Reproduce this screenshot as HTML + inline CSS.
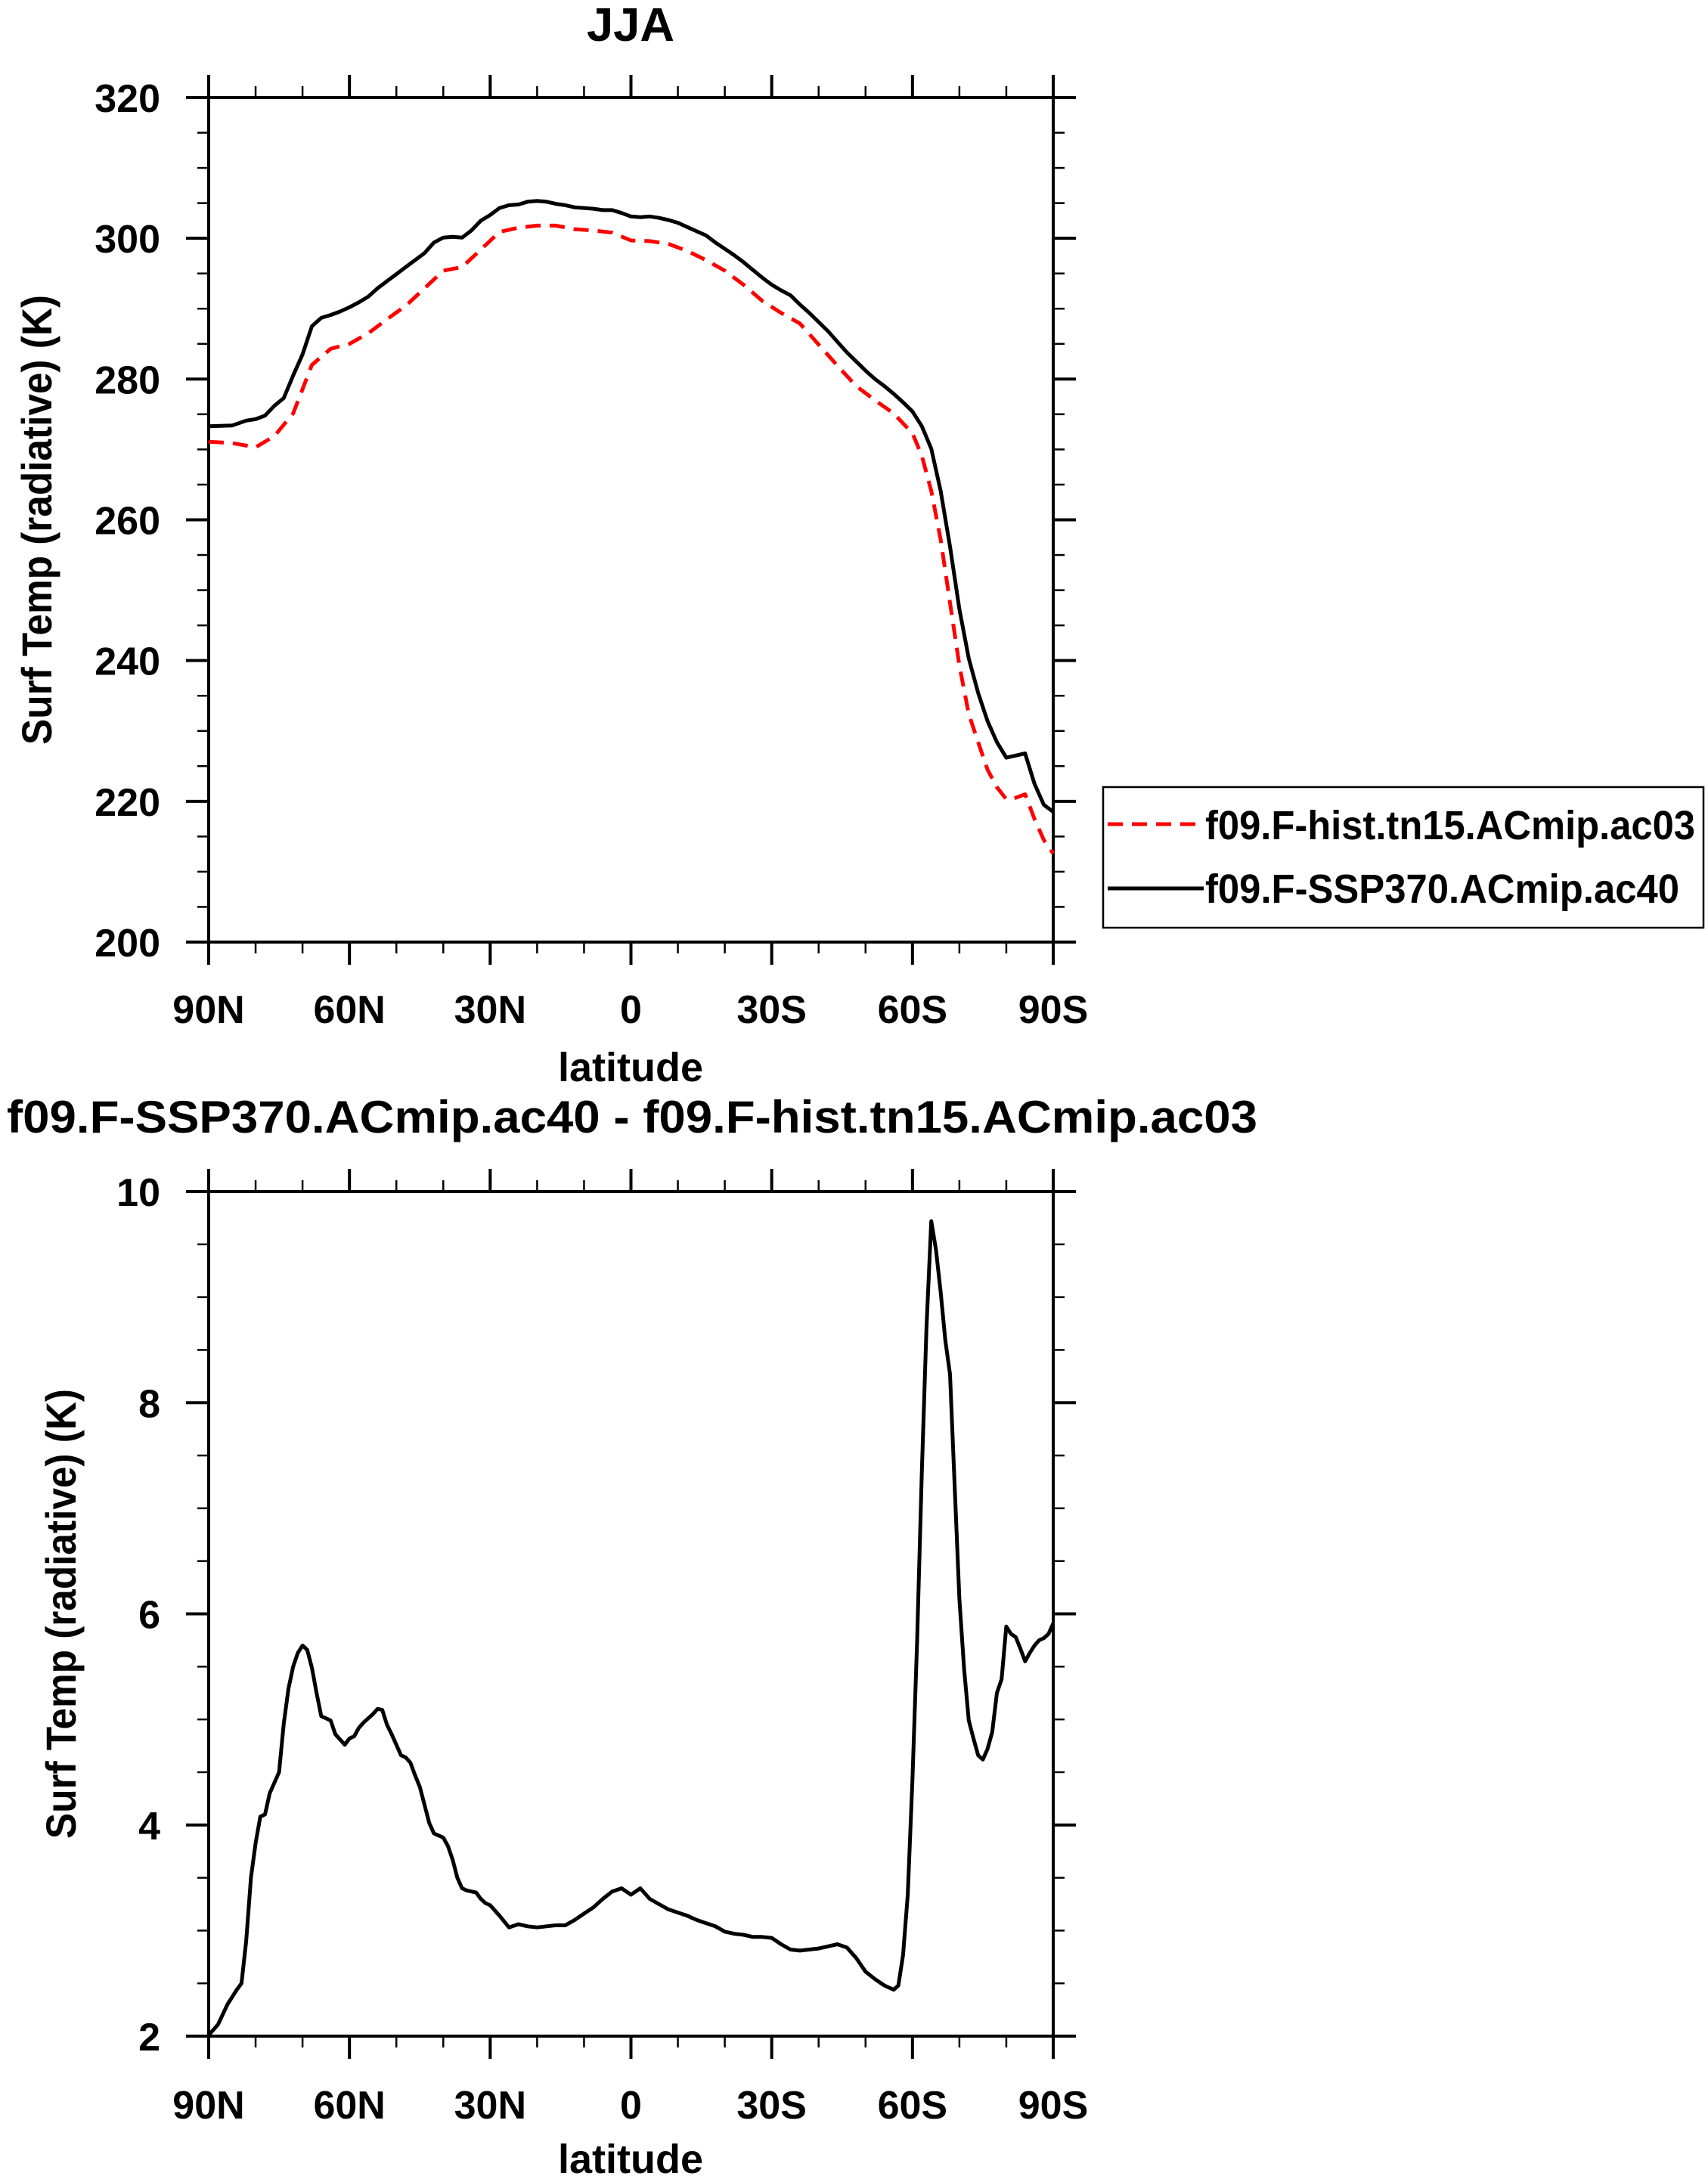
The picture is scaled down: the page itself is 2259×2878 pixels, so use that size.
<!DOCTYPE html>
<html><head><meta charset="utf-8"><style>
html,body{margin:0;padding:0;background:#fff}
svg{display:block}
text{font-family:"Liberation Sans",sans-serif;font-weight:bold;fill:#000}
</style></head><body>
<svg id="chart" width="2259" height="2878" viewBox="0 0 2259 2878" xmlns="http://www.w3.org/2000/svg">
<text x="834" y="54" font-size="62" text-anchor="middle" textLength="116" lengthAdjust="spacingAndGlyphs">JJA</text>
<text x="9" y="1498" font-size="60" textLength="1654" lengthAdjust="spacingAndGlyphs">f09.F-SSP370.ACmip.ac40 - f09.F-hist.tn15.ACmip.ac03</text>
<g id="top"></g>
<g id="bot"></g>
<g>
<rect x="1459" y="1041" width="794" height="186" fill="#fff" stroke="#000" stroke-width="2.5"/>
<line x1="1465" y1="1090" x2="1592" y2="1090" stroke="#f00" stroke-width="5" stroke-dasharray="20,12"/>
<text x="1594" y="1110" font-size="54" textLength="648" lengthAdjust="spacingAndGlyphs">f09.F-hist.tn15.ACmip.ac03</text>
<line x1="1465" y1="1175" x2="1592" y2="1175" stroke="#000" stroke-width="5"/>
<text x="1594" y="1194" font-size="54" textLength="627" lengthAdjust="spacingAndGlyphs">f09.F-SSP370.ACmip.ac40</text>
</g>
</svg>
<script>
const NS="http://www.w3.org/2000/svg";
const latSSP=[90,85,82,80,78,76,74,72,70,68,66,64,62,60,58,56,54,52,50,48,46,44,42,40,38,36,34,32,30,28,26,24,22,20,18,16,14,12,10,8,6,4,2,0,-2,-4,-6,-8,-10,-12,-14,-16,-18,-20,-22,-24,-26,-28,-30,-32,-34,-36,-38,-40,-42,-44,-46,-48,-50,-52,-54,-56,-58,-60,-62,-64,-66,-68,-70,-72,-74,-76,-78,-80,-82,-84,-86,-88,-90];
const valSSP=[273.3,273.4,274.1,274.3,274.8,276.2,277.3,280.5,283.5,287.5,288.7,289.1,289.6,290.2,290.9,291.7,292.9,293.9,294.9,295.9,296.9,297.9,299.4,300.1,300.2,300.1,301.1,302.5,303.3,304.3,304.7,304.8,305.2,305.3,305.2,304.9,304.7,304.4,304.3,304.2,304.0,304.0,303.6,303.1,303.0,303.1,302.9,302.6,302.2,301.6,301.0,300.4,299.4,298.5,297.6,296.6,295.5,294.4,293.4,292.6,291.9,290.6,289.4,288.1,286.8,285.3,283.8,282.5,281.2,280.0,279.0,277.9,276.7,275.4,273.3,270.1,264.1,256.2,247.3,240.3,235.4,231.4,228.4,226.2,226.5,226.8,222.5,219.5,218.5];
const latHist=[90,85,80,76,72,68,64,60,56,52,48,44,40,36,32,28,24,20,16,12,8,4,0,-4,-8,-12,-16,-20,-24,-28,-32,-36,-40,-44,-48,-52,-56,-60,-62,-64,-66,-68,-70,-72,-74,-76,-78,-80,-82,-84,-86,-88,-90];
const valHist=[271.1,270.9,270.3,271.9,275.1,282.0,284.3,285.0,286.5,288.5,290.4,292.9,295.4,295.9,298.4,300.9,301.5,301.8,301.8,301.3,301.1,300.8,299.7,299.6,299.2,298.2,296.9,295.4,293.4,291.1,289.4,287.9,284.9,281.9,279.0,277.0,275.1,272.3,269.1,264.1,257.2,248.2,239.3,232.4,228.4,224.5,222.0,220.3,220.5,221.0,217.5,214.5,212.6];
const latDiff=[90,88,86,84,83,82,81,80,79,78,77,76,75,74,73,72,71,70,69,68,67,66,65,64,63,62,61,60,59,58,57,56,55,54,53,52,51,50,49,48,47,46,45,44,43,42,41,40,39,38,37,36,35,34,33,32,31,30,28,26,24,22,20,18,16,14,12,10,8,6,4,2,0,-2,-4,-6,-8,-10,-12,-14,-16,-18,-20,-22,-24,-26,-28,-30,-32,-34,-36,-38,-40,-42,-44,-46,-48,-50,-52,-54,-56,-57,-58,-59,-60,-61,-62,-63,-64,-65,-66,-67,-68,-69,-70,-71,-72,-73,-74,-75,-76,-77,-78,-79,-80,-81,-82,-83,-84,-85,-86,-87,-88,-89,-90];
const valDiff=[2.01,2.11,2.30,2.44,2.5,2.9,3.5,3.83,4.08,4.1,4.3,4.4,4.5,4.96,5.29,5.5,5.63,5.70,5.66,5.49,5.25,5.03,5.01,4.99,4.86,4.81,4.76,4.82,4.84,4.92,4.97,5.01,5.05,5.10,5.09,4.95,4.86,4.76,4.66,4.64,4.59,4.47,4.36,4.19,4.02,3.92,3.90,3.88,3.80,3.67,3.5,3.40,3.38,3.37,3.36,3.30,3.26,3.24,3.14,3.03,3.06,3.04,3.03,3.04,3.05,3.05,3.10,3.16,3.22,3.30,3.37,3.40,3.34,3.40,3.30,3.25,3.20,3.17,3.14,3.10,3.07,3.04,2.99,2.97,2.96,2.94,2.94,2.93,2.87,2.82,2.81,2.82,2.83,2.85,2.87,2.84,2.74,2.61,2.54,2.48,2.44,2.48,2.77,3.34,4.43,5.75,7.34,8.72,9.72,9.45,9.05,8.59,8.27,7.2,6.14,5.48,4.99,4.82,4.66,4.62,4.72,4.88,5.25,5.38,5.88,5.81,5.78,5.67,5.55,5.63,5.70,5.75,5.77,5.81,5.91];
const xTickVals=[90,60,30,0,-30,-60,-90];
const xTickLabels=["90N","60N","30N","0","30S","60S","90S"];
const topYTicks=[200,220,240,260,280,300,320];
const botYTicks=[2,4,6,8,10];

const X0=276,X1=1393;
const xs=lat=>X0+(90-lat)/180*(X1-X0);
function mk(parent,tag,attrs){const e=document.createElementNS(NS,tag);for(const k in attrs)e.setAttribute(k,attrs[k]);parent.appendChild(e);return e;}

function panel(g,yTop,yBot,vmin,vmax,yTicks,minorStep,yTitleX,xLabY,latY,series){
  const ys=v=>yBot-(v-vmin)/(vmax-vmin)*(yBot-yTop);
  const fr=mk(g,'rect',{x:X0,y:yTop,width:X1-X0,height:yBot-yTop,fill:'none',stroke:'#000','stroke-width':4});
  
  
  for(let lat=90;lat>=-90;lat-=10){
    const major=lat%30===0;const L=major?30:15;const x=xs(lat);
    const t1=mk(g,'line',{x1:x,y1:yBot,x2:x,y2:yBot+L,stroke:'#000','stroke-width':major?4:2.5});
    
    
    const t2=mk(g,'line',{x1:x,y1:yTop,x2:x,y2:yTop-L,stroke:'#000','stroke-width':major?4:2.5});
    
    
  }
  xTickVals.forEach((v,i)=>{
    const t=mk(g,'text',{x:xs(v),y:xLabY,'font-size':52,'text-anchor':'middle'});
    t.textContent=xTickLabels[i];
    
    
  });
  for(let v=vmin;v<=vmax+1e-9;v+=minorStep){
    const major=yTicks.some(t=>Math.abs(t-v)<1e-6);const L=major?30:15;const y=ys(v);
    const a=mk(g,'line',{x1:X0,y1:y,x2:X0-L,y2:y,stroke:'#000','stroke-width':major?4:2.5});
    
    
    const b=mk(g,'line',{x1:X1,y1:y,x2:X1+L,y2:y,stroke:'#000','stroke-width':major?4:2.5});
    
    
  }
  yTicks.forEach(v=>{
    const t=mk(g,'text',{x:212,y:ys(v)+19,'font-size':52,'text-anchor':'end'});
    t.textContent=String(v);
    
    
  });
  const cy=(yTop+yBot)/2;
  const yt=mk(g,'text',{x:0,y:0,'font-size':56,'text-anchor':'middle',transform:`translate(${yTitleX},${cy}) rotate(-90)`,textLength:595,lengthAdjust:'spacingAndGlyphs'});
  yt.textContent='Surf Temp (radiative) (K)';
  
  
  const xt=mk(g,'text',{x:834,y:latY,'font-size':54,'text-anchor':'middle'});
  xt.textContent='latitude';
  
  
  series.forEach(s=>{
    const d=s.lat.map((l,i)=>(i?'L':'M')+xs(l).toFixed(1)+','+ys(s.val[i]).toFixed(1)).join(' ');
    const p=mk(g,'path',{d:d,fill:'none',stroke:s.color,'stroke-width':5,'stroke-linejoin':'round'});
    if(s.dash)p.setAttribute('stroke-dasharray','20,12');
    
    
  });
}
panel(document.getElementById('top'),129,1246,200,320,topYTicks,5,68,1353,1430,[
  {lat:latHist,val:valHist,color:'#f00',dash:true,name:'line-hist'},
  {lat:latSSP,val:valSSP,color:'#000',dash:false,name:'line-ssp370'}]);
panel(document.getElementById('bot'),1576,2693,2,10,botYTicks,0.5,100,2802,2874,[
  {lat:latDiff,val:valDiff,color:'#000',dash:false,name:'line-difference'}]);
</script>
</body></html>
